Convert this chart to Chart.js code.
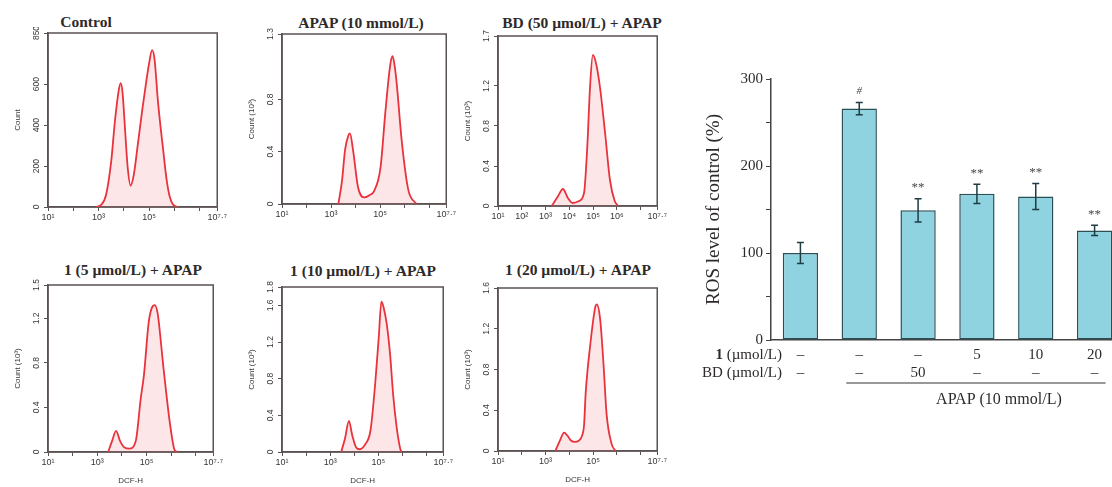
<!DOCTYPE html>
<html>
<head>
<meta charset="utf-8">
<script src="https://cdn.jsdelivr.net/npm/chart.js@4.4.1/dist/chart.umd.min.js"></script>
<style>
  body { margin: 0; background: #fff; overflow: hidden; }
  #wrap { position: relative; width: 1112px; height: 487px; overflow: hidden; background: #fff; }
  #wrap canvas { position: absolute; }
  .ttl { position: absolute; font-family: "Liberation Serif", "Times New Roman", serif; font-weight: bold;
         font-size: 15.5px; color: #2e2a2a; white-space: nowrap; transform: translate(-50%, -50%); }
</style>
</head>
<body>
<div id="wrap">
  <div class="ttl" style="left:86px;top:22px">Control</div>
  <div class="ttl" style="left:361px;top:23px">APAP (10 mmol/L)</div>
  <div class="ttl" style="left:582px;top:23px">BD (50 µmol/L) + APAP</div>
  <div class="ttl" style="left:133px;top:270px">1 (5 µmol/L) + APAP</div>
  <div class="ttl" style="left:363px;top:271px">1 (10 µmol/L) + APAP</div>
  <div class="ttl" style="left:578px;top:270px">1 (20 µmol/L) + APAP</div>
  <canvas id="rosChart"></canvas>
</div>
<script>
// histogram data: x = log10(DCF-H), y = count
const ctrlX     = [2.9, 3.1, 3.3, 3.5, 3.65, 3.8, 3.88, 3.95, 4.05, 4.15, 4.27, 4.4, 4.55, 4.73, 4.86, 5.0, 5.12, 5.22, 5.35, 5.56, 5.7, 5.82, 5.95, 6.15];
const ctrlCount = [0, 10, 60, 220, 420, 570, 605, 560, 380, 200, 105, 160, 300, 473, 587, 700, 766, 720, 520, 278, 130, 50, 12, 0];

const apapX     = [3.3, 3.45, 3.57, 3.7, 3.77, 3.9, 4.1, 4.36, 4.6, 4.76, 5.02, 5.22, 5.42, 5.51, 5.6, 5.68, 5.88, 6.15, 6.48];
const apapCount = [0, 0.18, 0.41, 0.52, 0.54, 0.41, 0.13, 0.05, 0.07, 0.10, 0.28, 0.71, 1.07, 1.13, 1.05, 0.92, 0.49, 0.11, 0];

const bdX       = [3.26, 3.53, 3.73, 3.94, 4.14, 4.41, 4.62, 4.76, 4.87, 4.99, 5.14, 5.3, 5.51, 5.71, 5.91, 6.05];
const bdCount   = [0, 0.10, 0.17, 0.08, 0.03, 0.05, 0.13, 0.61, 1.18, 1.51, 1.41, 1.17, 0.72, 0.26, 0.05, 0];

const c5X       = [3.44, 3.6, 3.76, 3.92, 4.1, 4.3, 4.56, 4.76, 4.89, 5.08, 5.2, 5.33, 5.45, 5.54, 5.67, 5.8, 5.93, 6.13, 6.25];
const c5Count   = [0, 0.10, 0.19, 0.10, 0.04, 0.03, 0.10, 0.48, 0.69, 1.16, 1.29, 1.32, 1.24, 1.07, 0.78, 0.52, 0.28, 0.02, 0];

const c10X      = [3.46, 3.62, 3.78, 3.92, 4.08, 4.23, 4.45, 4.68, 4.88, 5.02, 5.13, 5.22, 5.35, 5.49, 5.62, 5.76, 5.9, 5.96];
const c10Count  = [0, 0.15, 0.34, 0.18, 0.05, 0.03, 0.08, 0.24, 0.77, 1.25, 1.64, 1.58, 1.40, 1.07, 0.62, 0.28, 0.05, 0];

const c20X      = [3.41, 3.6, 3.78, 3.92, 4.08, 4.22, 4.4, 4.55, 4.62, 4.69, 4.89, 5.09, 5.16, 5.3, 5.44, 5.57, 5.78, 5.95];
const c20Count  = [0, 0.10, 0.18, 0.15, 0.10, 0.09, 0.10, 0.16, 0.25, 0.57, 1.06, 1.41, 1.44, 1.29, 0.85, 0.36, 0.07, 0];

// axis ticks (x in log10 decades)
const xTickPos    = [1, 2, 3, 4, 5, 6, 7, 7.7];
const xLabelsStd  = [1, 3, 5, 7.7];
const xLabelsBD   = [1, 2, 3, 4, 5, 6, 7.7];
const ctrlYTicks  = [0, 200, 400, 600, 850];
const apapYTicks  = [0, 0.4, 0.8, 1.3];
const bdYTicks    = [0, 0.4, 0.8, 1.2, 1.7];
const c5YTicks    = [0, 0.4, 0.8, 1.2, 1.5];
const c10YTicks   = [0, 0.4, 0.8, 1.2, 1.6, 1.8];
const c20YTicks   = [0, 0.4, 0.8, 1.2, 1.6];

// bar chart data
const rosValues      = [100, 266, 149, 168, 165, 126];
const rosErrors      = [12, 7, 13.5, 11, 15, 6];
const rosMarks       = ['', '#', '**', '**', '**', '**'];
const compound1Doses = ['–', '–', '–', '5', '10', '20'];
const bdDoses        = ['–', '–', '50', '–', '–', '–'];

const serif = '"Liberation Serif", "Times New Roman", serif';
const sans = '"Liberation Sans", "DejaVu Sans", Arial, sans-serif';
const axisCol = '#5b5252';
const wrap = document.getElementById('wrap');

const SUP = {'0':'⁰','1':'¹','2':'²','3':'³','4':'⁴','5':'⁵','6':'⁶','7':'⁷','8':'⁸','9':'⁹','.':'·'};
const sup = v => String(v).split('').map(ch => SUP[ch]).join('');

// frame round the plot area (drawn under the curve)
const boxPlugin = {
  id: 'box',
  beforeDatasetsDraw(chart) {
    const {ctx, chartArea: a} = chart;
    ctx.save();
    ctx.strokeStyle = axisCol;
    ctx.lineWidth = 1.5;
    ctx.strokeRect(a.left, a.top, a.right - a.left, a.bottom - a.top);
    ctx.restore();
  }
};

// y tick labels turned 90 degrees, like the cytometer output
const rotLabels = {
  id: 'rotLabels',
  afterDraw(chart, args, opts) {
    const {ctx, chartArea: a} = chart;
    const y = chart.scales.y;
    ctx.save();
    ctx.fillStyle = '#3a3535';
    ctx.font = '8.5px ' + sans;
    ctx.textAlign = 'center';
    ctx.textBaseline = 'middle';
    opts.values.forEach(v => {
      ctx.save();
      ctx.translate(a.left - 11, y.getPixelForValue(v));
      ctx.rotate(-Math.PI / 2);
      ctx.fillText(String(v), 0, 0);
      ctx.restore();
    });
    ctx.restore();
  }
};

const panels = [
  {box: [48, 33, 222, 207],  x: ctrlX, y: ctrlCount, yTicks: ctrlYTicks, xLabels: xLabelsStd, yTitle: 'Count'},
  {box: [282, 34, 451, 204], x: apapX, y: apapCount, yTicks: apapYTicks, xLabels: xLabelsStd, yTitle: 'Count (10³)'},
  {box: [498, 36, 662, 206], x: bdX,   y: bdCount,   yTicks: bdYTicks,   xLabels: xLabelsBD,  yTitle: 'Count (10³)'},
  {box: [48, 285, 218, 452], x: c5X,   y: c5Count,   yTicks: c5YTicks,   xLabels: xLabelsStd, yTitle: 'Count (10³)', xTitle: 'DCF-H'},
  {box: [282, 287, 448, 452], x: c10X, y: c10Count,  yTicks: c10YTicks,  xLabels: xLabelsStd, yTitle: 'Count (10³)', xTitle: 'DCF-H'},
  {box: [498, 288, 662, 451], x: c20X, y: c20Count,  yTicks: c20YTicks,  xLabels: xLabelsStd, yTitle: 'Count (10³)', xTitle: 'DCF-H'}
];

function makeHist(p) {
  const padL = 44, padT = 6, padR = 6, padB = p.xTitle ? 34 : 24;
  const w = p.box[2] - p.box[0] + padL + padR;
  const h = p.box[3] - p.box[1] + padT + padB;
  const c = document.createElement('canvas');
  c.width = w; c.height = h;
  c.style.left = (p.box[0] - padL) + 'px';
  c.style.top = (p.box[1] - padT) + 'px';
  c.style.width = w + 'px'; c.style.height = h + 'px';
  wrap.appendChild(c);

  new Chart(c, {
    type: 'line',
    data: {
      datasets: [{
        data: p.x.map((v, i) => ({x: v, y: p.y[i]})),
        borderColor: '#e8333d',
        borderWidth: 1.8,
        backgroundColor: 'rgba(238, 130, 140, 0.2)',
        fill: 'origin',
        pointRadius: 0,
        cubicInterpolationMode: 'monotone'
      }]
    },
    options: {
      responsive: false,
      animation: false,
      layout: {padding: {top: padT, right: padR, left: 0, bottom: 0}},
      plugins: {
        legend: {display: false},
        tooltip: {enabled: false},
        rotLabels: {values: p.yTicks}
      },
      scales: {
        x: {
          type: 'linear', min: 1, max: 7.7,
          afterBuildTicks: s => { s.ticks = xTickPos.map(v => ({value: v})); },
          afterFit: s => { s.height = padB; },
          border: {color: axisCol, width: 1.5},
          grid: {drawOnChartArea: false, tickLength: 4, color: axisCol, lineWidth: 1},
          ticks: {
            callback: v => p.xLabels.includes(v) ? '10' + sup(v) : '',
            autoSkip: false, maxRotation: 0, padding: 1,
            font: {family: sans, size: 9}, color: '#3a3535'
          },
          title: {display: !!p.xTitle, text: p.xTitle || '', font: {family: sans, size: 8}, color: '#3a3535', padding: 0}
        },
        y: {
          min: 0, max: p.yTicks[p.yTicks.length - 1],
          afterBuildTicks: s => { s.ticks = p.yTicks.map(v => ({value: v})); },
          afterFit: s => { s.width = padL; },
          border: {color: axisCol, width: 1.5},
          grid: {drawOnChartArea: false, tickLength: 4, color: axisCol, lineWidth: 1},
          ticks: {display: false},
          title: {display: true, text: p.yTitle, font: {family: sans, size: 8}, color: '#3a3535', padding: {top: 9, bottom: 0}}
        }
      }
    },
    plugins: [boxPlugin, rotLabels]
  });
}

panels.forEach(makeHist);

// error bars, significance marks, dose rows and APAP bracket
const rosPlugin = {
  id: 'rosExtras',
  afterDatasetsDraw(chart) {
    const {ctx} = chart;
    const x = chart.scales.x, y = chart.scales.y;
    ctx.save();
    ctx.strokeStyle = '#1f3d42';
    ctx.lineWidth = 1.5;
    rosValues.forEach((v, i) => {
      const cx = x.getPixelForValue(i);
      const yt = y.getPixelForValue(v + rosErrors[i]);
      const yb = y.getPixelForValue(v - rosErrors[i]);
      ctx.beginPath();
      ctx.moveTo(cx, yt); ctx.lineTo(cx, yb);
      ctx.moveTo(cx - 3.5, yt); ctx.lineTo(cx + 3.5, yt);
      ctx.moveTo(cx - 3.5, yb); ctx.lineTo(cx + 3.5, yb);
      ctx.stroke();
      if (rosMarks[i]) {
        ctx.fillStyle = '#4a4545';
        ctx.textAlign = 'center';
        ctx.textBaseline = 'middle';
        ctx.font = (rosMarks[i] === '#' ? 'italic 11px ' : '13px ') + serif;
        ctx.fillText(rosMarks[i], cx, yt - 11);
      }
    });
    ctx.restore();
  },
  afterDraw(chart) {
    const {ctx, chartArea: a} = chart;
    const x = chart.scales.x;
    ctx.save();
    ctx.fillStyle = '#2e2a2a';
    ctx.textBaseline = 'middle';
    ctx.textAlign = 'right';
    const right = a.left + 11;
    // row 1: "1 (µmol/L)" with the compound number in bold
    ctx.font = '15px ' + serif;
    const rest = ' (µmol/L)';
    ctx.fillText(rest, right, a.bottom + 15);
    const restW = ctx.measureText(rest).width;
    ctx.font = 'bold 15px ' + serif;
    ctx.fillText('1', right - restW, a.bottom + 15);
    // row 2
    ctx.font = '15px ' + serif;
    ctx.fillText('BD (µmol/L)', right, a.bottom + 33);
    // APAP bracket
    const x1 = x.getPixelForValue(1) - 13;
    const x2 = x.getPixelForValue(5) + 11;
    ctx.strokeStyle = '#333';
    ctx.lineWidth = 1.2;
    ctx.beginPath();
    ctx.moveTo(x1, a.bottom + 43); ctx.lineTo(x2, a.bottom + 43);
    ctx.stroke();
    ctx.textAlign = 'center';
    ctx.font = '16px ' + serif;
    ctx.fillText('APAP (10 mmol/L)', (x1 + x2) / 2 + 23, a.bottom + 60);
    ctx.restore();
  }
};

const rc = document.getElementById('rosChart');
rc.width = 434; rc.height = 350;
rc.style.left = '690px'; rc.style.top = '60px';
rc.style.width = '434px'; rc.style.height = '350px';

new Chart(rc, {
  type: 'bar',
  data: {
    labels: compound1Doses.map((d, i) => [d, bdDoses[i]]),
    datasets: [{
      data: rosValues,
      backgroundColor: '#8fd3e0',
      borderColor: '#2b4f55',
      borderWidth: 1.5,
      borderSkipped: false,
      barPercentage: 0.6,
      categoryPercentage: 1
    }]
  },
  options: {
    responsive: false,
    animation: false,
    layout: {padding: {top: 19, right: 0, left: 0, bottom: 0}},
    plugins: {legend: {display: false}, tooltip: {enabled: false}},
    scales: {
      x: {
        afterFit: s => { s.height = 70; },
        border: {color: '#444', width: 1.5},
        grid: {drawOnChartArea: false, drawTicks: false},
        ticks: {font: {family: serif, size: 15}, color: '#2e2a2a', padding: 6, maxRotation: 0, autoSkip: false}
      },
      y: {
        min: 0, max: 300,
        afterFit: s => { s.width = 81; },
        border: {color: '#444', width: 1.5},
        grid: {drawOnChartArea: false, tickLength: 5, color: '#444'},
        ticks: {stepSize: 50, callback: v => v % 100 === 0 ? v : '', font: {family: serif, size: 15}, color: '#2e2a2a', padding: 3},
        title: {display: true, text: 'ROS level of control (%)', font: {family: serif, size: 19}, color: '#2e2a2a', padding: {top: 13, bottom: 0}}
      }
    }
  },
  plugins: [rosPlugin]
});
</script>
</body>
</html>
